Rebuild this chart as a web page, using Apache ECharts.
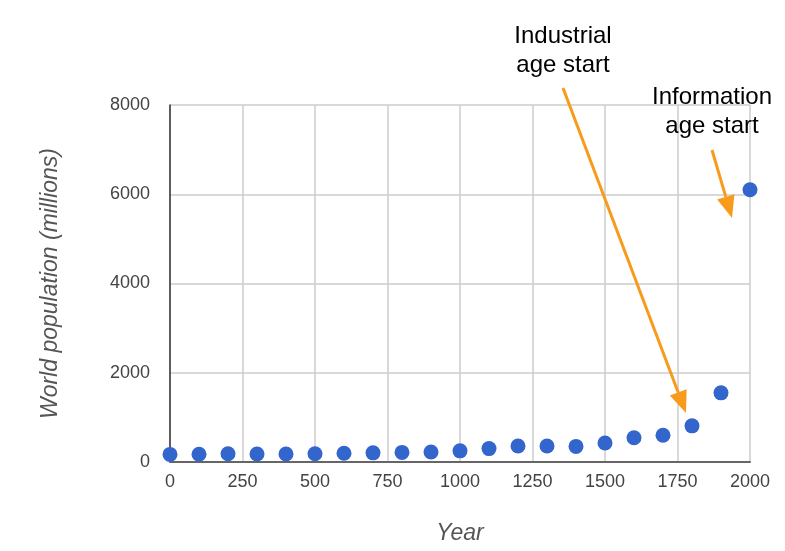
<!DOCTYPE html>
<html>
<head>
<meta charset="utf-8">
<title>World population</title>
<script src="https://cdn.jsdelivr.net/npm/echarts@6/dist/echarts.min.js"></script>
<style>
	html, body { margin: 0; padding: 0; background: #fff; }
	#chart { width: 785px; height: 551px; }
</style>
</head>
<body>
<div id="chart"></div>
<script>
"use strict";
// 数据
var years = [0, 100, 200, 300, 400, 500, 600, 700, 800, 900, 1000,
		1100, 1200, 1300, 1400, 1500, 1600, 1700, 1800, 1900, 2000];
var population = [170, 175, 185, 180, 180, 185, 195, 205, 215, 225, 250,
		300, 360, 360, 350, 425, 545, 600, 810, 1550, 6100];
var xTicks = [0, 250, 500, 750, 1000, 1250, 1500, 1750, 2000];
var yTicks = [0, 2000, 4000, 6000, 8000];

var FONT = '"Liberation Sans", Arial, sans-serif';
var ORANGE = '#f89b1c';

// 箭头 (线 + 三角)
function arrow(x1, y1, x2, y2) {
	var dx = x2 - x1, dy = y2 - y1;
	var len = Math.sqrt(dx * dx + dy * dy);
	var ux = dx / len, uy = dy / len;
	var hl = 22, hw = 9;
	var bx = x2 - ux * hl, by = y2 - uy * hl;
	return [ {
		type : 'line',
		shape : { x1 : x1, y1 : y1, x2 : bx, y2 : by },
		style : { stroke : ORANGE, lineWidth : 3 },
		z : 100
	}, {
		type : 'polygon',
		shape : {
			points : [ [ x2, y2 ], [ bx - uy * hw, by + ux * hw ],
					[ bx + uy * hw, by - ux * hw ] ]
		},
		style : { fill : ORANGE },
		z : 100
	} ];
}

function label(text, x, y) {
	return {
		type : 'text',
		x : x,
		y : y,
		z : 100,
		style : {
			text : text,
			font : '24px ' + FONT,
			fill : '#000',
			align : 'center',
			verticalAlign : 'middle',
			lineHeight : 29
		}
	};
}

function plain(v) {
	return String(v);
}

var chart = echarts.init(document.getElementById('chart'));

var graphics = [ label('Industrial\nage start', 563, 51),
		label('Information\nage start', 712, 112) ]
		.concat(arrow(563, 88, 686, 413))
		.concat(arrow(712, 150, 732, 218));

var option = {
	animation : false,
	backgroundColor : '#fff',
	grid : {
		left : 170,
		right : 35,
		top : 105,
		bottom : 89
	},
	xAxis : {
		type : 'value',
		min : xTicks[0],
		max : xTicks[xTicks.length - 1],
		interval : 250,
		name : 'Year',
		nameLocation : 'middle',
		nameGap : 60,
		nameTextStyle : {
			fontFamily : FONT,
			fontSize : 23,
			fontStyle : 'italic',
			color : '#555'
		},
		axisLine : { lineStyle : { color : '#666', width : 2 } },
		axisTick : { show : false },
		axisLabel : {
			fontFamily : FONT,
			fontSize : 18,
			color : '#444',
			margin : 11,
			formatter : plain,
			showMinLabel : true,
			showMaxLabel : true
		},
		splitLine : { show : true, lineStyle : { color : '#ccc', width : 1.5 } }
	},
	yAxis : {
		type : 'value',
		min : yTicks[0],
		max : yTicks[yTicks.length - 1],
		interval : 2000,
		name : 'World population (millions)',
		nameLocation : 'middle',
		nameGap : 108,
		nameTextStyle : {
			fontFamily : FONT,
			fontSize : 23,
			fontStyle : 'italic',
			color : '#555'
		},
		axisLine : { show : true, lineStyle : { color : '#333', width : 1.5 } },
		axisTick : { show : false },
		axisLabel : {
			fontFamily : FONT,
			fontSize : 18,
			color : '#444',
			margin : 20,
			formatter : plain
		},
		splitLine : { show : true, lineStyle : { color : '#ccc', width : 1.5 } }
	},
	series : [ {
		type : 'scatter',
		symbolSize : 15,
		clip : false,
		itemStyle : { color : '#3366cc', opacity : 1 },
		data : years.map(function(y, i) {
			return [ y, population[i] ];
		}),
		z : 10
	} ],
	graphic : graphics
};
chart.setOption(option);
</script>
</body>
</html>
